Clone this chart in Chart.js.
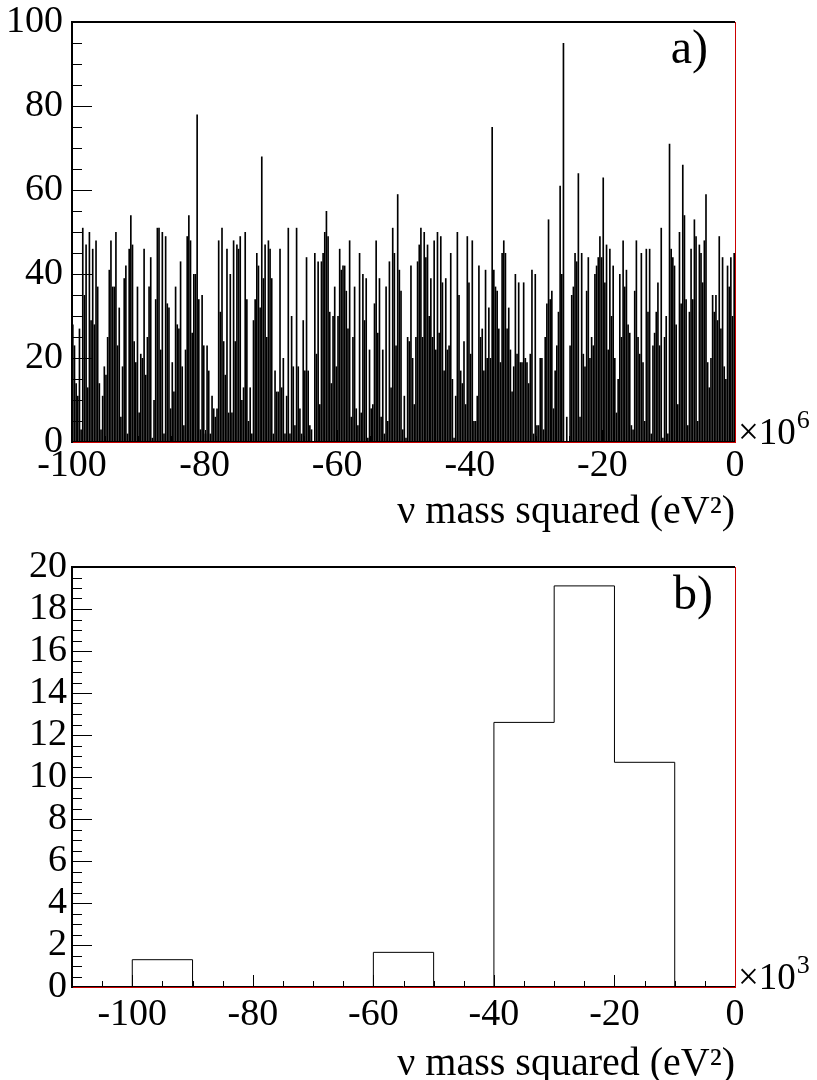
<!DOCTYPE html>
<html>
<head>
<meta charset="utf-8">
<script src="https://cdn.jsdelivr.net/npm/chart.js@4.4.1/dist/chart.umd.min.js"></script>
<style>
  html, body { margin: 0; padding: 0; background: #fff; overflow: hidden; }
  canvas { position: absolute; left: 0; }
  #chartA { top: 0; }
  #chartB { top: 545px; }
</style>
</head>
<body>
<canvas id="chartA" width="817" height="545"></canvas>
<canvas id="chartB" width="817" height="545"></canvas>
<script>
// panel a): 400 bins of 0.25 (x10^6 eV^2) from -100 to 0
const aLow = -100;
const aBinWidth = 0.25;
const aCounts = [
  28,23,14,11,27,3,51,35,47,13, 50,29,46,28,48,37,14,3,11,18,
  16,25,41,48,37,37,50,23,32,6, 18,39,42,2,46,54,47,24,19,37,
  7,21,20,46,16,25,37,44,1,10, 34,51,51,22,50,2,49,33,32,8,
  19,12,37,28,27,43,18,4,22,49, 54,48,26,40,40,78,34,3,35,23,
  2,23,17,2,11,8,6,8,48,31, 51,24,16,46,7,40,
  7,48,24,47,46,49,10,13,50,34, 5,13,2,29,34,45,42,32,68,39,
  47,25,48,46,39,2,17,12,12,46, 13,20,2,11,51,2,30,18,4,51,
  18,8,2,29,17,44,17,4,3,0, 45,21,43,9,43,45,50,55,49,31,
  14,30,37,18,30,46,41,42,42,36, 27,48,6,25,37,8,4,45,7,40,
  29,39,1,22,8,9,33,48,26,39, 6,22,2,37,5,43,13,51,45,23,
  59,41,36,3,11,1,25,24,42,20, 9,25,43,47,51,25,50,44,47,30,
  39,25,48,22,50,26,49,38,17,39, 22,23,45,15,1,11,50,35,17,14,
  24,9,49,38,21,48,5,5,11,42, 25,27,17,41,20,32,20,75,41,37,
  36,27,19,45,48,45,27,32,22,12, 18,40,21,38,19,19,38,20,19,14,
  21,41,2,40,4,4,20,20,3,25, 33,53,34,36,8,17,23,31,
  61,40,95,0,6,0,23,35,37,45, 43,64,6,45,21,18,36,44,20,25,
  23,40,42,44,49,44,63,38,47,22, 46,30,42,20,7,15,40,25,48,37,
  41,28,26,4,3,36,48,25,21,45, 19,5,46,31,46,2,23,26,31,38,
  23,51,1,25,30,2,71,46,44,42, 28,9,50,33,66,54,34,4,31,46,
  34,53,49,5,47,45,38,48,59,19, 13,20,35,31,35,29,49,27,44,18,
  15,42,37,44,30,45
];
const aXTicks = [-100, -80, -60, -40, -20, 0];
const aYTicks = [0, 20, 40, 60, 80, 100];

// panel b): 10 (x10^3 eV^2) per bin
const bEdges = [-110, -100, -90, -80, -70, -60, -50, -40, -30, -20, -10, 0];
const bCounts = [0, 1.3, 0, 0, 0, 1.65, 0, 12.6, 19.1, 10.7, 0];
const bXTicks = [-100, -80, -60, -40, -20, 0];
const bYTicks = [0, 2, 4, 6, 8, 10, 12, 14, 16, 18, 20];

const axisTitle = 'ν mass squared (eV²)';
const FONT = "'Liberation Serif', 'Times New Roman', serif";

// ROOT style frame: ticks inside, red frame, panel label and axis exponent
const rootFrame = {
  id: 'rootFrame',
  afterDatasetsDraw(chart, args, opts) {
    const { ctx, chartArea: a, scales: { x, y } } = chart;
    ctx.save();
    ctx.strokeStyle = '#000';
    ctx.lineWidth = 1;
    ctx.beginPath();
    for (let v = y.min; v <= y.max + 1e-9; v += opts.yMinor) {
      const py = Math.round(y.getPixelForValue(v)) + 0.5;
      const major = Math.abs(v / opts.yMajor - Math.round(v / opts.yMajor)) < 1e-6;
      ctx.moveTo(a.left, py);
      ctx.lineTo(a.left + (major ? 20 : 10), py);
    }
    const start = Math.ceil(x.min / opts.xMinor) * opts.xMinor;
    for (let v = start; v <= x.max + 1e-9; v += opts.xMinor) {
      const px = Math.round(x.getPixelForValue(v)) + 0.5;
      const major = Math.abs(v / opts.xMajor - Math.round(v / opts.xMajor)) < 1e-6;
      ctx.moveTo(px, a.bottom);
      ctx.lineTo(px, a.bottom - (major ? 12 : 6));
    }
    ctx.stroke();

    // frame: red box, black axes on top
    ctx.strokeStyle = '#cc0000';
    ctx.strokeRect(a.left + 0.5, a.top + 0.5, a.right - a.left, a.bottom - a.top);
    ctx.strokeStyle = '#000';
    ctx.lineWidth = 2;
    ctx.beginPath();
    ctx.moveTo(a.left - 1, a.top);
    ctx.lineTo(a.right, a.top);
    ctx.moveTo(a.left, a.top - 1);
    ctx.lineTo(a.left, a.bottom + 1);
    ctx.stroke();
    ctx.lineWidth = 1;
    ctx.beginPath();
    ctx.moveTo(a.left, a.bottom - 0.5);
    ctx.lineTo(a.right, a.bottom - 0.5);
    ctx.stroke();

    // texts
    ctx.fillStyle = '#000';
    ctx.textBaseline = 'alphabetic';
    ctx.font = '48px ' + FONT;
    ctx.textAlign = 'right';
    ctx.fillText(opts.label, opts.labelX, opts.labelY);
    ctx.textAlign = 'left';
    ctx.font = '37px ' + FONT;
    ctx.fillText('×10', a.right + 3, a.bottom + 2);
    const w = ctx.measureText('×10').width;
    ctx.font = '26px ' + FONT;
    ctx.fillText(opts.exponent, a.right + 3 + w + 1, a.bottom - 14);
    ctx.restore();
  }
};

function xScale(ticks, min, labelPad, titlePad) {
  return {
    type: 'linear',
    min: min,
    max: 0,
    offset: false,
    grid: { display: false, drawTicks: false },
    border: { display: false },
    afterBuildTicks: s => { s.ticks = ticks.map(v => ({ value: v })); },
    afterFit: s => { s.height = 103; s.paddingLeft = 0; s.paddingRight = 0; },
    ticks: {
      autoSkip: false, maxRotation: 0, padding: labelPad, color: '#000',
      font: { family: FONT, size: 38 },
      callback: v => String(v)
    },
    title: {
      display: true, text: axisTitle, align: 'end', color: '#000',
      font: { family: FONT, size: 40 }, padding: { top: 0, bottom: titlePad }
    }
  };
}

function yScale(ticks, max, pad) {
  return {
    min: 0,
    max: max,
    grid: { display: false, drawTicks: false },
    border: { display: false },
    afterBuildTicks: s => { s.ticks = ticks.map(v => ({ value: v })); },
    afterFit: s => { s.width = 72; s.paddingTop = 0; s.paddingBottom = 0; },
    ticks: {
      autoSkip: false, padding: pad, color: '#000',
      font: { family: FONT, size: 38 },
      callback: v => String(v)
    }
  };
}

const common = {
  responsive: false,
  animation: false,
  devicePixelRatio: 1,
  layout: { padding: { left: 0, right: 82, top: 22, bottom: 0 } }
};

new Chart(document.getElementById('chartA'), {
  type: 'bar',
  data: {
    datasets: [{
      data: aCounts.map((v, i) => ({ x: aLow + (i + 0.5) * aBinWidth, y: v })),
      backgroundColor: '#000',
      borderWidth: 0,
      inflateAmount: 0,
      barPercentage: 1,
      categoryPercentage: 1
    }]
  },
  options: {
    ...common,
    scales: { x: xScale(aXTicks, -100, 1, 9), y: yScale(aYTicks, 100, 9) },
    plugins: {
      legend: { display: false },
      tooltip: { enabled: false },
      rootFrame: { xMinor: 5, xMajor: 20, yMinor: 5, yMajor: 20, label: 'a)', labelX: 708, labelY: 63, exponent: '6' }
    }
  },
  plugins: [rootFrame]
});

new Chart(document.getElementById('chartB'), {
  type: 'line',
  data: {
    datasets: [{
      data: bEdges.map((e, i) => ({ x: e, y: i < bCounts.length ? bCounts[i] : bCounts[bCounts.length - 1] })),
      borderColor: '#000',
      borderWidth: 1,
      pointRadius: 0,
      fill: false,
      stepped: 'before'
    }]
  },
  options: {
    ...common,
    scales: { x: xScale(bXTicks, -110, 5, 2), y: yScale(bYTicks, 20, 5) },
    plugins: {
      legend: { display: false },
      tooltip: { enabled: false },
      rootFrame: { xMinor: 5, xMajor: 20, yMinor: 0.5, yMajor: 2, label: 'b)', labelX: 713, labelY: 64, exponent: '3' }
    }
  },
  plugins: [rootFrame]
});
</script>
</body>
</html>
